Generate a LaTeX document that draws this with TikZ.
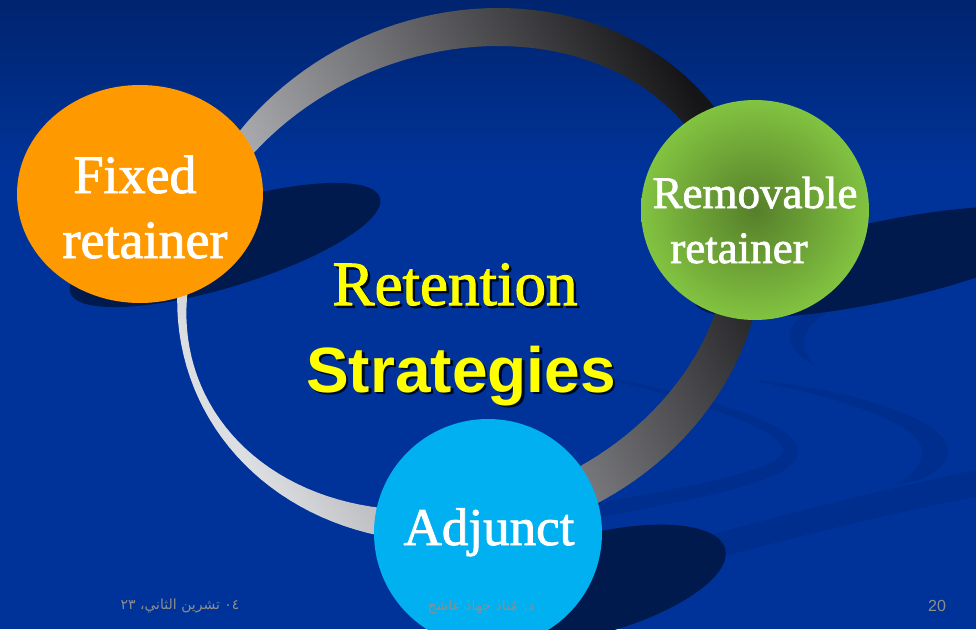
\documentclass[tikz,border=0pt]{standalone}
\usepackage{fontspec}
\setmainfont{Liberation Serif}
\setsansfont{Liberation Sans}
\newfontfamily\heavyserif{Liberation Serif}[FakeBold=1.6]
\newfontfamily\arabicfont[Script=Arabic]{DejaVu Sans}
\TeXXeTstate=1
\usetikzlibrary{shapes.geometric}
\definecolor{bgblue}{HTML}{003399}
\definecolor{bgtop}{HTML}{00246E}
\definecolor{swirl}{HTML}{002E8E}
\definecolor{shadowblue}{HTML}{001A4E}
\definecolor{ringlight}{HTML}{DDDEE2}
\definecolor{ringmid}{HTML}{9A9A9C}
\definecolor{ringdark}{HTML}{151518}
\definecolor{fixedorange}{HTML}{FF9900}
\definecolor{remgreen}{HTML}{82C341}
\definecolor{remgreendark}{HTML}{567F2A}
\definecolor{adjcyan}{HTML}{00B0F0}
\definecolor{footgray}{HTML}{8E8E8E}
\definecolor{titleyellow}{HTML}{FFFF00}
\begin{document}
\begin{tikzpicture}[x=1pt,y=-1pt,
  disc/.style={ellipse,inner sep=0pt},
  word/.style={anchor=base,inner sep=0pt,text=white},
  headline/.style={anchor=base,inner sep=0pt,text=titleyellow},
  headdrop/.style={anchor=base,inner sep=0pt,text=black,opacity=.8},
  footer/.style={inner sep=0pt,text=footgray}]
\useasboundingbox (0,0) rectangle (976,629);
\fill[bgblue] (0,0) rectangle (976,629);
\shade[top color=bgtop,bottom color=bgblue] (0,0) rectangle (976,170);
\fill[swirl] (560,368) .. controls (680,390) and (800,420) .. (798,452) .. controls (796,480) and (720,495) .. (560,525)
  -- (560,510) .. controls (700,485) and (782,470) .. (783,450) .. controls (784,430) and (680,392) .. (560,370) -- cycle;
\fill[swirl] (760,380) .. controls (880,395) and (950,425) .. (948,452) .. controls (946,470) and (925,480) .. (895,485)
  .. controls (915,475) and (923,462) .. (922,450) .. controls (920,425) and (850,400) .. (760,382) -- cycle;
\fill[swirl] (830,305) .. controls (790,315) and (770,340) .. (815,366) .. controls (795,345) and (805,325) .. (830,310) -- cycle;
\fill[swirl] (620,560) .. controls (760,520) and (880,490) .. (976,470) -- (976,497) .. controls (880,515) and (760,545) .. (640,580) -- cycle;
\fill[shadowblue,rotate around={17:(225,245)}] (225,245) ellipse [x radius=162,y radius=42];
\fill[shadowblue,rotate around={12:(880,262)}] (880,262) ellipse [x radius=190,y radius=40];
\fill[shadowblue,rotate around={15:(590,585)}] (590,585) ellipse [x radius=140,y radius=50];
\shade[even odd rule,left color=ringlight,middle color=ringmid,right color=ringdark,shading angle=118]
  plot[domain=0:360,samples=145] ({470+291.5*cos(\x)+28*sin(\x)},{275-267*sin(\x)}) -- cycle
  plot[domain=360:0,samples=145] ({457+267.5*cos(\x)+41*sin(\x)},{278-232*sin(\x)}) -- cycle;
\node[disc,fill=fixedorange,minimum width=246pt,minimum height=218pt] (fixed) at (140,194) {};
\node[disc,inner color=remgreendark,outer color=remgreen,minimum width=228pt,minimum height=220pt] (removable) at (755,210) {};
\node[disc,fill=adjcyan,minimum size=228pt] (adjunct) at (488,533) {};
\node[word,font=\fontsize{54}{54}\heavyserif] (fixedtop) at (135,193) {Fixed};
\node[word,font=\fontsize{54}{54}\heavyserif] (fixedbottom) at (145,258) {retainer};
\node[word,font=\fontsize{45}{45}\heavyserif] (removabletop) at (755,208) {Removable};
\node[word,font=\fontsize{45}{45}\heavyserif] (removablebottom) at (739,263) {retainer};
\node[word,font=\fontsize{53}{53}\heavyserif] (adjuncttext) at (489,545) {Adjunct};
\node[headdrop,font=\fontsize{63}{63}\heavyserif] (retentiondrop) at (457.5,307.5) {Retention};
\node[headline,font=\fontsize{63}{63}\heavyserif] (retention) at (455,305) {Retention};
\node[headdrop,font=\sffamily\bfseries\fontsize{64}{64}\selectfont] (strategiesdrop) at (463.5,394.5) {Strategies};
\node[headline,font=\sffamily\bfseries\fontsize{64}{64}\selectfont] (strategies) at (461,392) {Strategies};
\node[footer,font=\fontsize{14}{14}\arabicfont] (date) at (180,606) {\beginR\beginL{}٠٤\endL{} تشرين الثاني، \beginL{}٢٣\endL{}\endR};
\node[footer,font=\fontsize{14}{14}\arabicfont] (author) at (481,607) {\beginR{}د. مُناد جهاد عاشج\endR};
\node[footer,font=\sffamily\fontsize{16}{16}\selectfont] (page) at (937,606) {20};
\end{tikzpicture}
\end{document}
